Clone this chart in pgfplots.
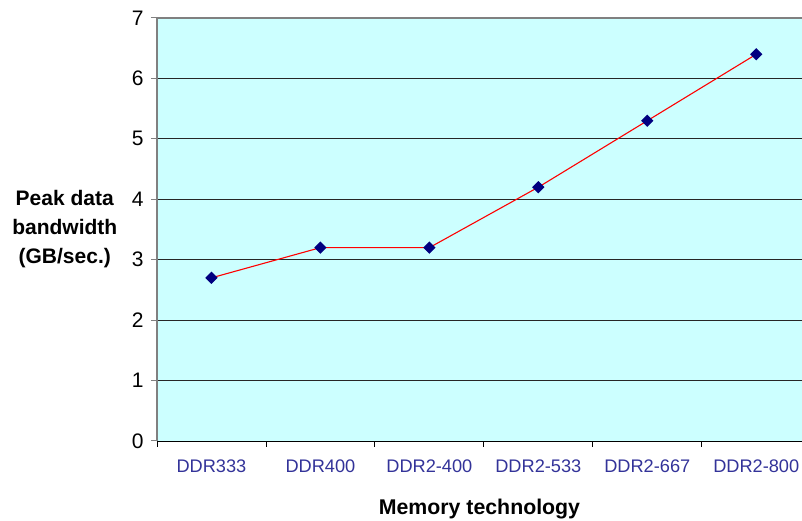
\documentclass[border=0pt]{standalone}
\usepackage{fontspec}
\setmainfont{Liberation Sans}
\usepackage{pgfplots}
\pgfplotsset{compat=1.18}
\definecolor{bgc}{HTML}{CCFFFF}
\definecolor{navy}{HTML}{000080}
\definecolor{tickblue}{HTML}{333399}
\begin{document}
\begin{tikzpicture}
\begin{axis}[
  at={(0,0)}, anchor=south west,
  scale only axis, width=645pt, height=423pt,
  xmin=-0.5, xmax=5.42, ymin=0, ymax=7,
  axis background/.style={fill=bgc},
  axis x line*=bottom, axis y line*=left,
  x axis line style={black, line width=0.9pt, -},
  y axis line style={gray, line width=1.2pt, -},
  tick align=outside,
  major tick length=6pt,
  x tick style={black, line width=0.9pt},
  y tick style={gray, line width=1pt},
  ytick={0,...,6},
  extra y ticks={7},
  extra y tick style={grid style={gray, line width=1.4pt}},
  ymajorgrids,
  grid style={black!85, line width=0.8pt},
  xtick={-0.5,0.5,1.5,2.5,3.5,4.5},
  xticklabels={},
  extra x ticks={0,1,2,3,4,5},
  extra x tick labels={DDR333,DDR400,DDR2-400,DDR2-533,DDR2-667,DDR2-800},
  extra x tick style={major tick length=0pt},
  /pgf/number format/assume math mode=true,
  yticklabel style={font=\fontsize{21}{24}\selectfont, black, xshift=-4pt},
  xticklabel style={font=\fontsize{18.2}{22}\selectfont, text=tickblue, yshift=-15pt},
  ylabel={Peak data\\bandwidth\\(GB/sec.)},
  ylabel style={rotate=-90, align=center, font=\bfseries\fontsize{21}{29}\selectfont,
    at={(axis description cs:-0.143,0.5)}, anchor=center},
  xlabel={Memory technology},
  xlabel style={font=\bfseries\fontsize{21.3}{24}\selectfont,
    at={(axis description cs:0.5,-0.161)}, anchor=center},
]
\addplot[red, line width=1.1pt, mark=square*, mark size=3.8pt,
  mark options={rotate=45, fill=navy, draw=navy}]
  coordinates {(0,2.7) (1,3.2) (2,3.2) (3,4.2) (4,5.3) (5,6.4)};
\end{axis}
\pgfresetboundingbox
\useasboundingbox (-157pt,-80pt) rectangle (645pt,441pt);
\end{tikzpicture}
\end{document}
